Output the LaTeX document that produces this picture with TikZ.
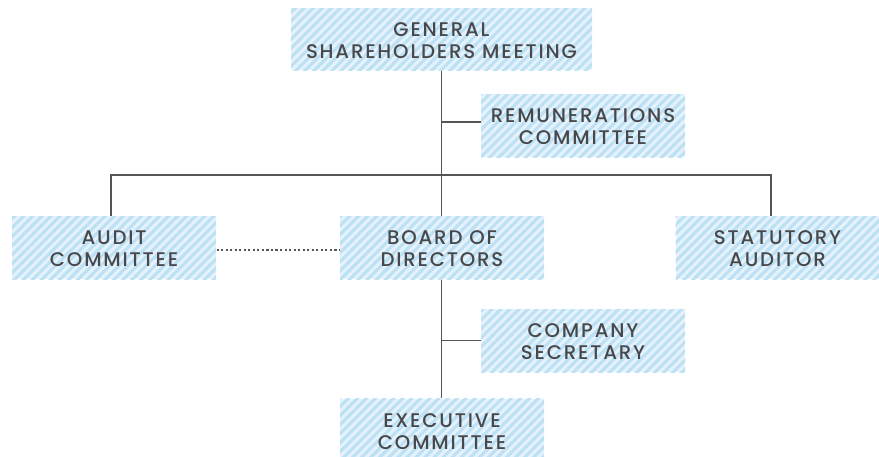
\documentclass[tikz,border=0pt]{standalone}
\usepackage{fontspec}
\setmainfont{Poppins Medium}
\usetikzlibrary{patterns.meta}
\definecolor{boxtext}{RGB}{72,72,74}
\definecolor{stripe}{RGB}{188,225,245}
\definecolor{boxback}{RGB}{229,242,251}
\definecolor{wire}{RGB}{85,85,87}
\newcommand{\orglines}[2]{\raisebox{-3pt}[\height][\depth]{\begin{tabular}{@{}c@{}}#1\\#2\end{tabular}}}
\tikzset{every picture/.style={line width=0.75pt}}
\tikzset{
  orgbox/.style={fill=boxback, minimum width=153pt, minimum height=47.25pt, inner sep=0pt,
    postaction={pattern={Lines[angle=45,distance=4.8pt,line width=2.3pt]}, pattern color=stripe},
    text=boxtext, font=\fontsize{14.8}{16.5}\selectfont\addfontfeatures{LetterSpace=9.2}},
  link/.style={draw=wire, line width=1.1pt},
  dotlink/.style={draw=wire, line width=1.8pt, dash pattern=on 1.6pt off 1.8pt}
}

\begin{document}
\begin{tikzpicture}[x=0.75pt,y=0.75pt,yscale=-1,xscale=1]
\useasboundingbox (0,0) rectangle (879,457);

% Boxes
\node[orgbox, minimum width=225.75pt, minimum height=46.5pt] (gsm) at (441.5,39) {\orglines{GENERAL}{SHAREHOLDERS MEETING}};
\node[orgbox] (remun) at (583,125.5) {\orglines{REMUNERATIONS}{COMMITTEE}};
\node[orgbox] (audit) at (114,247.5) {\orglines{AUDIT}{COMMITTEE}};
\node[orgbox] (board) at (442,247.5) {\orglines{BOARD OF}{DIRECTORS}};
\node[orgbox] (statut) at (777.5,247.5) {\orglines{STATUTORY}{AUDITOR}};
\node[orgbox] (secret) at (583,340.5) {\orglines{COMPANY}{SECRETARY}};
\node[orgbox] (exec) at (442,430) {\orglines{EXECUTIVE}{COMMITTEE}};

% Bus line
\coordinate (bus) at (441.5,175);
\coordinate (remtap) at (441.5,122);

% Connections
\draw[link] (gsm.south -| bus) -- (bus);
\draw[link] (remtap) -- (remtap -| remun.west);
\draw[link] (audit.north -| 111,0) -- (111,175) -- (771,175) -- (statut.north -| 771,0);
\draw[link] (bus) -- (board.north -| bus);
\draw[link] (board.south -| bus) -- (exec.north -| bus);
\draw[link] (secret.west -| bus) -- (secret.west);
\draw[dotlink] ([yshift=2pt]audit.east) -- ([yshift=2pt]board.west);

\end{tikzpicture}
\end{document}
